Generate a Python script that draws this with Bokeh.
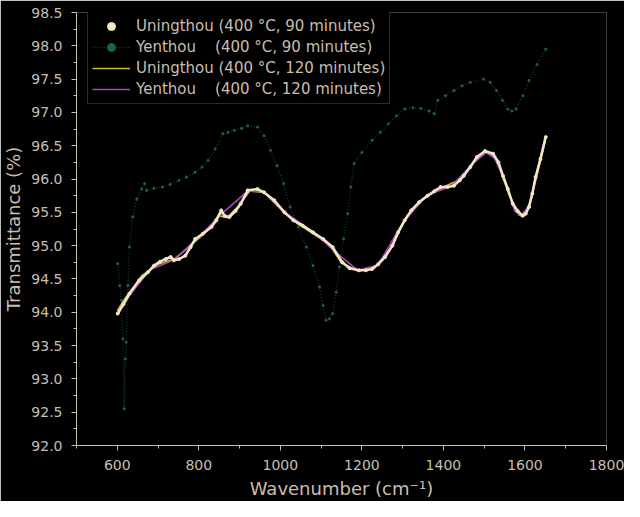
from bokeh.plotting import figure
from bokeh.models import Range1d, FixedTicker, PrintfTickFormatter, Legend, LegendItem
from bokeh.embed import file_html
from bokeh.resources import INLINE

# ---------------- data ----------------
wn_u90 = [601, 615, 630, 654, 675, 690, 705, 719, 731, 739, 752, 767, 780, 791, 810,
          831, 843, 855, 863, 875, 890, 903, 920, 944, 960, 985, 1010, 1032, 1055, 1080,
          1105, 1128, 1152, 1170, 1193, 1210, 1225, 1240, 1257, 1275, 1289, 1305, 1321,
          1340, 1361, 1378, 1393, 1410, 1426, 1440, 1450, 1466, 1482, 1502, 1522, 1535,
          1546, 1558, 1570, 1582, 1594, 1602, 1610, 1618, 1626, 1638, 1651]
t_u90 = [93.98, 94.12, 94.28, 94.48, 94.60, 94.70, 94.76, 94.80, 94.83, 94.78, 94.80,
         94.85, 94.98, 95.10, 95.18, 95.28, 95.38, 95.53, 95.45, 95.43, 95.52, 95.63,
         95.83, 95.85, 95.80, 95.68, 95.50, 95.38, 95.30, 95.20, 95.10, 94.98, 94.75,
         94.66, 94.63, 94.63, 94.65, 94.72, 94.83, 95.00, 95.20, 95.38, 95.53, 95.65,
         95.75, 95.82, 95.88, 95.88, 95.90, 95.98, 96.05, 96.18, 96.33, 96.42, 96.38,
         96.25, 96.05, 95.85, 95.63, 95.52, 95.45, 95.48, 95.58, 95.78, 96.03, 96.30, 96.63]

wn_y90 = [601, 606, 610, 614, 617, 620, 622, 626, 630, 638, 648, 660, 667, 672, 690, 711,
          730, 751, 770, 791, 808, 823, 840, 859, 872, 887, 905, 920, 944, 960, 976, 992,
          1008, 1024, 1044, 1064, 1080, 1096, 1105, 1112, 1120, 1128, 1137, 1145, 1155,
          1165, 1173, 1181, 1200, 1225, 1245, 1265, 1285, 1305, 1325, 1345, 1365, 1378,
          1386, 1405, 1426, 1446, 1466, 1498, 1515, 1530, 1545, 1558, 1568, 1578, 1595,
          1610, 1630, 1651]
t_y90 = [94.73, 94.40, 94.18, 93.60, 92.55, 93.30, 93.55, 94.40, 94.98, 95.43, 95.70,
         95.85, 95.93, 95.83, 95.86, 95.88, 95.92, 95.98, 96.03, 96.10, 96.18, 96.28,
         96.45, 96.68, 96.70, 96.73, 96.76, 96.80, 96.78, 96.65, 96.43, 96.20, 95.93,
         95.58, 95.28, 94.98, 94.70, 94.38, 94.10, 93.88, 93.90, 93.98, 94.30, 94.68,
         95.10, 95.48, 95.88, 96.23, 96.40, 96.58, 96.70, 96.83, 96.95, 97.05, 97.07,
         97.06, 97.02, 96.98, 97.18, 97.25, 97.33, 97.40, 97.45, 97.50, 97.45, 97.33,
         97.18, 97.05, 97.02, 97.05, 97.25, 97.48, 97.72, 97.95]

wn_u120 = [600, 620, 640, 660, 700, 740, 780, 820, 848, 870, 895, 925, 960, 1000, 1040,
           1080, 1120, 1150, 1190, 1230, 1270, 1310, 1350, 1400, 1440, 1480, 1505, 1530,
           1560, 1585, 1598, 1615, 1632, 1650]
t_u120 = [94.02, 94.22, 94.38, 94.55, 94.72, 94.80, 95.00, 95.22, 95.45, 95.42, 95.58,
          95.82, 95.80, 95.56, 95.34, 95.18, 95.02, 94.74, 94.62, 94.66, 94.96, 95.44,
          95.70, 95.88, 95.99, 96.30, 96.40, 96.30, 95.78, 95.46, 95.44, 95.70, 96.12, 96.58]

wn_y120 = [600, 630, 680, 740, 800, 860, 920, 960, 1020, 1080, 1140, 1190, 1240, 1300,
           1360, 1420, 1470, 1505, 1525, 1550, 1575, 1590, 1610, 1630, 1648]
t_y120 = [93.96, 94.25, 94.64, 94.79, 95.13, 95.50, 95.82, 95.81, 95.46, 95.21, 94.88,
          94.63, 94.71, 95.34, 95.76, 95.89, 96.22, 96.40, 96.32, 95.98, 95.52, 95.45,
          95.60, 96.12, 96.60]

series_labels = [
    "Uningthou (400 °C, 90 minutes)",
    "Yenthou\u00a0\u00a0\u00a0\u00a0(400 °C, 90 minutes)",
    "Uningthou (400 °C, 120 minutes)",
    "Yenthou\u00a0\u00a0\u00a0\u00a0(400 °C, 120 minutes)",
]

x_ticks = [600, 800, 1000, 1200, 1400, 1600, 1800]
x_minor = [500, 700, 900, 1100, 1300, 1500, 1700]
y_ticks = [92.0, 92.5, 93.0, 93.5, 94.0, 94.5, 95.0, 95.5, 96.0, 96.5, 97.0, 97.5, 98.0, 98.5]
y_minor = [92.25, 92.75, 93.25, 93.75, 94.25, 94.75, 95.25, 95.75, 96.25, 96.75,
           97.25, 97.75, 98.25]

x_label = "Wavenumber (cm\u207b\u00b9)"
y_label = "Transmittance (%)"

# ---------------- styling ----------------
TXT = "#c9bdb0"
FONT = "DejaVu Sans"

p = figure(width=624, height=501, output_backend="svg", toolbar_location=None,
           x_range=Range1d(500, 1800), y_range=Range1d(92, 98.5),
           min_border_left=75, min_border_right=18, min_border_top=12, min_border_bottom=56,
           background_fill_color="black", border_fill_color="black")
p.grid.visible = False
p.outline_line_color = None

for ax in (p.xaxis[0], p.yaxis[0]):
    ax.axis_line_color = TXT
    ax.axis_line_width = 1
    ax.major_tick_line_color = TXT
    ax.minor_tick_line_color = TXT
    ax.major_tick_out = 5
    ax.major_tick_in = 0
    ax.minor_tick_out = 3
    ax.minor_tick_in = 0
    ax.major_label_text_color = TXT
    ax.major_label_text_font = FONT
    ax.major_label_text_font_size = "14px"
    ax.axis_label_text_color = TXT
    ax.axis_label_text_font = FONT
    ax.axis_label_text_font_size = "18px"
    ax.axis_label_text_font_style = "normal"

p.xaxis.ticker = FixedTicker(ticks=x_ticks, minor_ticks=x_minor)
p.yaxis.ticker = FixedTicker(ticks=y_ticks, minor_ticks=y_minor)
p.yaxis.formatter = PrintfTickFormatter(format="%.1f")
p.xaxis.major_label_standoff = 9
p.yaxis.major_label_standoff = 9
p.xaxis.axis_label = x_label
p.yaxis.axis_label = y_label
p.xaxis.axis_label_standoff = 5
p.yaxis.axis_label_standoff = 4

r_y90_line = p.line(wn_y90, t_y90, line_color="#15403d", line_width=1.3, line_dash="1 2")
r_y90_dot = p.scatter(wn_y90, t_y90, size=2.2, color="#1f5e5a")
r_u120 = p.line(wn_u120, t_u120, line_color="#c4bd38", line_width=1.6)
r_y120 = p.line(wn_y120, t_y120, line_color="#a848bc", line_width=1.6)
r_u90 = p.line(wn_u90, t_u90, line_color="#f3e6c8", line_width=2.5)
r_u90_dot = p.scatter(wn_u90, t_u90, size=3, color="#f3e6c8")

legend = Legend(items=[
    LegendItem(label=series_labels[0], renderers=[r_u90_dot]),
    LegendItem(label=series_labels[1], renderers=[r_y90_line, r_y90_dot]),
    LegendItem(label=series_labels[2], renderers=[r_u120]),
    LegendItem(label=series_labels[3], renderers=[r_y120]),
], location=(11, 341))
legend.background_fill_color = "black"
legend.background_fill_alpha = 1
legend.border_line_color = "#5a524a"
legend.label_text_color = TXT
legend.label_text_font = FONT
legend.label_text_font_size = "15px"
legend.glyph_width = 38
legend.glyph_height = 20
legend.label_height = 20
legend.spacing = 1
legend.padding = 4
legend.margin = 0
legend.label_standoff = 6
p.add_layout(legend)

open("out.html", "w").write(file_html(p, INLINE))
